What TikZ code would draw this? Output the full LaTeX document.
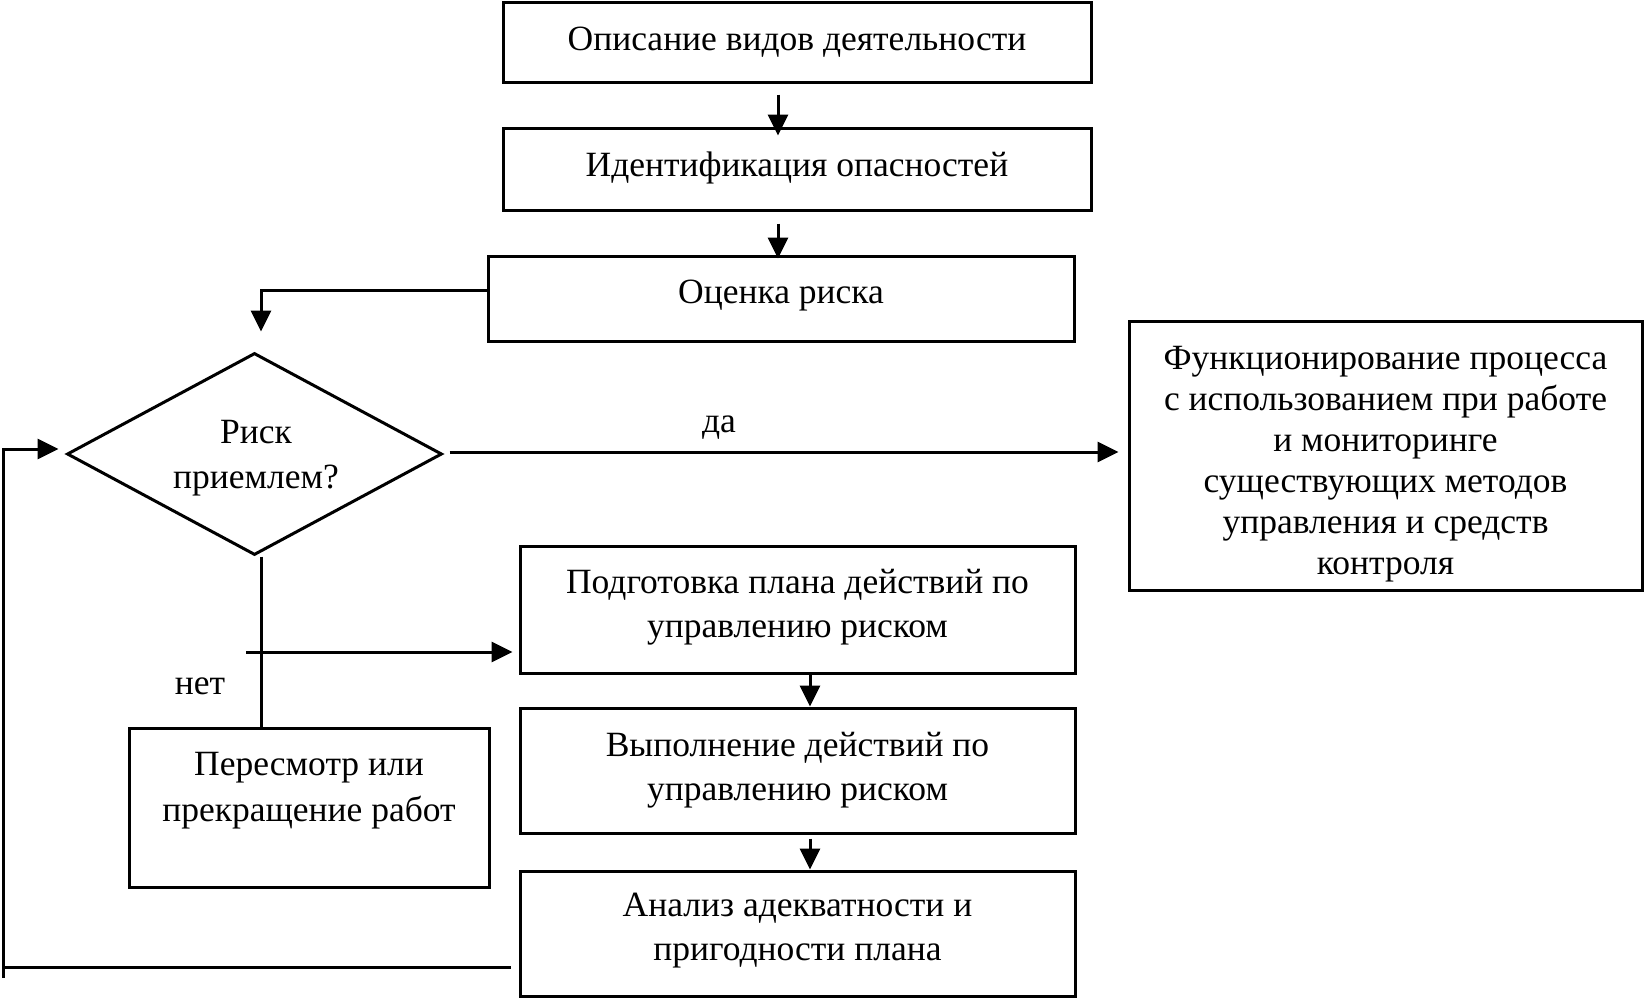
\documentclass[tikz,border=0pt]{standalone}
\usepackage{fontspec}
\setmainfont{Liberation Serif}
\usetikzlibrary{arrows.meta,shapes.geometric,calc}
\tikzset{
  box/.style={draw,line width=3pt,rectangle,inner sep=0pt},
  txt/.style={align=center,inner sep=0pt,font=\fontsize{35.5}{44}\selectfont},
  ftxt/.style={align=center,inner sep=0pt,font=\fontsize{35.5}{41}\selectfont},
  line/.style={line width=3pt},
  arr/.style={line width=3pt,-{Triangle[length=21pt,width=20pt]}},
}
\begin{document}
\begin{tikzpicture}[x=1pt,y=-1pt]
\useasboundingbox (0,0) rectangle (1644,998);
% boxes
\node[box,minimum width=588pt,minimum height=80pt] (b1) at (797,43) {};
\node[txt] (b1t) at (797,42) {Описание видов деятельности};
\node[box,minimum width=588pt,minimum height=82pt] (b2) at (797,169) {};
\node[txt] (b2t) at (797,168) {Идентификация опасностей};
\node[box,minimum width=586pt,minimum height=85pt] (b3) at (781,298.5) {};
\node[txt] (b3t) at (781,296) {Оценка риска};
\node[box,minimum width=513pt,minimum height=269pt] (f) at (1385.5,455.5) {};
\node[ftxt] (ft) at (1385.5,464) {Функционирование процесса\\с использованием при работе\\и мониторинге\\существующих методов\\управления и средств\\контроля};
\node[box,minimum width=555pt,minimum height=127pt] (p) at (797.5,609.5) {};
\node[txt] (pt) at (797.5,607) {Подготовка плана действий по\\управлению риском};
\node[box,minimum width=555pt,minimum height=125pt] (v) at (797.5,770.5) {};
\node[txt] (vt) at (797.5,770) {Выполнение действий по\\управлению риском};
\node[box,minimum width=555pt,minimum height=125pt] (a) at (797.5,933.5) {};
\node[txt] (at) at (797.5,931) {Анализ адекватности и\\пригодности плана};
\node[box,minimum width=360pt,minimum height=159pt] (r) at (309,807.5) {};
\node[txt,font=\fontsize{35.5}{46}\selectfont] (rt) at (309,791) {Пересмотр или\\прекращение работ};
% decision
\node[draw,line width=3pt,diamond,inner sep=0pt,minimum width=375pt,minimum height=202pt] (d) at (254.5,454) {};
\node[txt,font=\fontsize{35.5}{45}\selectfont] (dt) at (256,458) {Риск\\приемлем?};
% labels
\node[txt] (yes) at (719,428) {да};
\node[txt] (no) at (200,686) {нет};
% connectors
\draw[arr] ([xshift=-19pt,yshift=-10pt]b1.south) -- ([xshift=-19pt,yshift=-9pt]b2.north);
\draw[arr] ([xshift=-19pt,yshift=-12pt]b2.south) -- ([xshift=-3pt,yshift=-4pt]b3.north);
\draw[arr] ([yshift=8.5pt]b3.west) -| ([xshift=6.5pt,yshift=20pt]d.north);
\draw[arr] ([xshift=6pt,yshift=2pt]d.east) -- ([xshift=-9pt,yshift=3.5pt]f.west);
\draw[line] ([xshift=6.5pt]d.south) -- ([xshift=6.5pt]d.south |- r.north);
\coordinate (n0) at (246,652);
\draw[arr] (n0) -- ([xshift=-6pt,yshift=-42.5pt]p.west);
\draw[arr] ([xshift=12.5pt]p.south) -- ([xshift=12.5pt]v.north);
\draw[arr] ([xshift=12.5pt,yshift=-4pt]v.south) -- ([xshift=12.5pt]a.north);
\coordinate (c1) at (3,967);
\draw[line] ([xshift=-8pt,yshift=-33.5pt]a.west) -- (c1);
\draw[arr] (c1) |- ([xshift=-7pt,yshift=5pt]d.west);
\draw[line] (c1) -- ++(0,11);
\end{tikzpicture}
\end{document}
